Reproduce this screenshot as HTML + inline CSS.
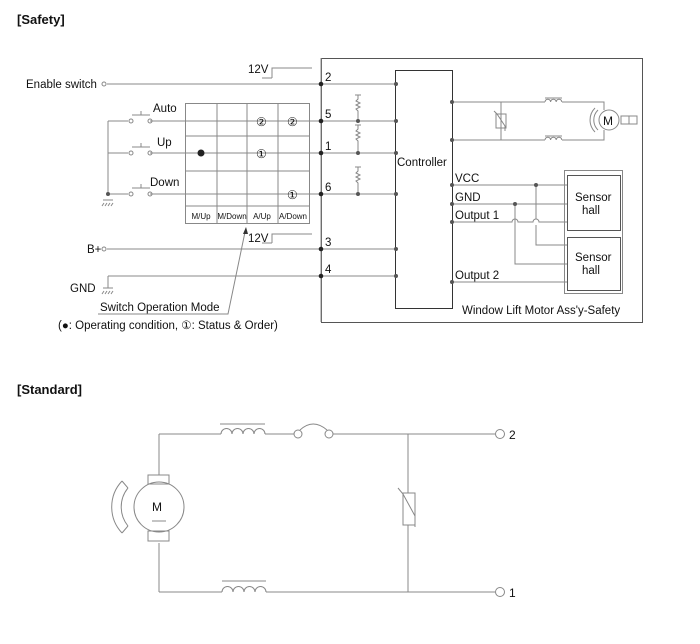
<!DOCTYPE html><html><head><style>body{margin:0;background:#fff}svg text{font-family:"Liberation Sans",sans-serif;fill:#111}</style></head><body>
<svg width="700" height="639" viewBox="0 0 700 639" xmlns="http://www.w3.org/2000/svg">
<g font-size="12">
<text x="17" y="24" font-weight="bold" font-size="13">[Safety]</text>
<text x="17" y="394" font-weight="bold" font-size="13">[Standard]</text>
</g>
<g stroke="#888" fill="none" stroke-width="1">
<rect x="321.5" y="58.5" width="321" height="264" stroke="#555"/>
<rect x="395.5" y="70.5" width="57" height="238" stroke="#333"/>
<path d="M107 84H396 M150 121H396 M150 153H396 M150 194H396 M107 249H396 M108 276H396"/>
<path d="M321 58V322"/>
<path d="M272 78V68H312 M262 78H272 M272 243V234H312 M262 243H272"/>
<path d="M108 121V194 M108 121H128 M108 153H128 M108 194H128 M132 115H150 M141 115V111 M132 147H150 M141 147V143 M132 188H150 M141 188V184"/>
<path d="M103 200H113 M104 203L102 206 M107 203L105 206 M110 203L108 206 M113 203L111 206"/>
<rect x="185.5" y="103.5" width="124" height="120"/>
<path d="M217 103V223 M247 103V223 M278 103V223 M185 136H309 M185 171H309 M185 206H309"/>
<path d="M108 276V288 M103 288H113 M104 291L102 294 M107 291L105 294 M110 291L108 294 M113 291L111 294"/>
<path d="M98 314H228 L245 232"/>
<path d="M358 95V99 l-2 2 4 2 -4 2 4 2 -4 2 2 2 V121 M358 125V129 l-2 2 4 2 -4 2 4 2 -4 2 2 2 V153 M358 167V171 l-2 2 4 2 -4 2 4 2 -4 2 2 2 V194"/>
<path d="M355 95H361 M355 125H361 M355 167H361"/>
<path d="M452 102H545 M562 102H604 V110 M452 140H545 M562 140H604 V130 M501 102V140"/>
<rect x="496" y="114" width="10" height="14"/>
<path d="M494 111L497 114L505 126V131"/>
<path d="M545 102a2.8 2.8 0 0 1 5.6 0a2.8 2.8 0 0 1 5.6 0a2.8 2.8 0 0 1 5.6 0 M545 140a2.8 2.8 0 0 1 5.6 0a2.8 2.8 0 0 1 5.6 0a2.8 2.8 0 0 1 5.6 0 M545 98H562 M545 136H562"/>
<circle cx="609" cy="120" r="10"/>
<rect x="621" y="116" width="16" height="8"/><path d="M629 116V124"/>
<path d="M598 110a14 14 0 0 0 0 20 M595 108a17 17 0 0 0 0 24"/>
<rect x="564.5" y="170.5" width="58" height="123"/>
<rect x="567.5" y="175.5" width="53" height="55" stroke="#555"/>
<rect x="567.5" y="237.5" width="53" height="53" stroke="#555"/>
<path d="M452 185H567 M452 204H567 M452 222H512 a3 3 0 0 1 6 0 H533 a3 3 0 0 1 6 0 H567 M452 282H567"/>
<path d="M536 185V219 M536 225V245H567 M515 204V264H567"/>
<path d="M159 434V475 M159 543V592 M159 434H221 M265 434H294 M333 434H495 M159 592H222 M266 592H495 M408 434V493 M408 525V592"/>
<path d="M221 434a5.5 5.5 0 0 1 11 0a5.5 5.5 0 0 1 11 0a5.5 5.5 0 0 1 11 0a5.5 5.5 0 0 1 11 0 M220 424H265 M222 592a5.5 5.5 0 0 1 11 0a5.5 5.5 0 0 1 11 0a5.5 5.5 0 0 1 11 0a5.5 5.5 0 0 1 11 0 M222 581H266"/>
<circle cx="298" cy="434" r="4"/><circle cx="329" cy="434" r="4"/>
<path d="M300 430Q313 418 327 430"/>
<circle cx="159" cy="507" r="25"/>
<rect x="148" y="475" width="21" height="9"/><rect x="148" y="531" width="21" height="10"/>
<path d="M152 521H166"/>
<path d="M128 488a30 30 0 0 0 0 38 M122 481a38 38 0 0 0 0 52 M122 481L128 488 M122 533L128 526"/>
<rect x="403" y="493" width="12" height="32"/>
<path d="M398 488L403 494L415 516V527"/>
<circle cx="500" cy="434" r="4.5"/><circle cx="500" cy="592" r="4.5"/>
<circle cx="104" cy="84" r="2"/><circle cx="104" cy="249" r="2"/>
<circle cx="131" cy="121" r="2"/><circle cx="150" cy="121" r="2"/>
<circle cx="131" cy="153" r="2"/><circle cx="150" cy="153" r="2"/>
<circle cx="131" cy="194" r="2"/><circle cx="150" cy="194" r="2"/>
</g>
<path d="M246 227L243 234L248 234Z" fill="#333"/>
<g fill="#222">
<circle cx="321" cy="84" r="2.3"/><circle cx="321" cy="121" r="2.3"/><circle cx="321" cy="153" r="2.3"/><circle cx="321" cy="194" r="2.3"/><circle cx="321" cy="249" r="2.3"/><circle cx="321" cy="276" r="2.3"/>
<circle cx="201" cy="153" r="3.5"/>
</g>
<g fill="#555">
<circle cx="396" cy="84" r="2"/><circle cx="396" cy="121" r="2"/><circle cx="396" cy="153" r="2"/><circle cx="396" cy="194" r="2"/><circle cx="396" cy="249" r="2"/><circle cx="396" cy="276" r="2"/>
<circle cx="358" cy="121" r="2"/><circle cx="358" cy="153" r="2"/><circle cx="358" cy="194" r="2"/>
<circle cx="452" cy="102" r="2"/><circle cx="452" cy="140" r="2"/><circle cx="452" cy="185" r="2"/><circle cx="452" cy="204" r="2"/><circle cx="452" cy="222" r="2"/><circle cx="452" cy="282" r="2"/>
<circle cx="536" cy="185" r="2"/><circle cx="515" cy="204" r="2"/>
<circle cx="108" cy="194" r="2"/>
</g>
<g font-size="11.5">
<text x="26" y="88">Enable switch</text>
<text x="248" y="73">12V</text><text x="248" y="242">12V</text>
<text x="153" y="112">Auto</text><text x="157" y="146">Up</text><text x="150" y="186">Down</text>
<text x="87" y="253">B+</text><text x="70" y="292">GND</text>
<text x="100" y="311">Switch Operation Mode</text>
<text x="58" y="329">(●: Operating condition, ①: Status &amp; Order)</text>
<text x="325" y="81">2</text><text x="325" y="118">5</text><text x="325" y="150">1</text><text x="325" y="191">6</text><text x="325" y="246">3</text><text x="325" y="273">4</text>
<text x="397" y="166">Controller</text>
<text x="455" y="182">VCC</text><text x="455" y="201">GND</text><text x="455" y="219">Output 1</text><text x="455" y="279">Output 2</text>
<text x="575" y="201">Sensor</text><text x="582" y="214">hall</text>
<text x="575" y="261">Sensor</text><text x="582" y="274">hall</text>
<text x="462" y="314">Window Lift Motor Ass'y-Safety</text>
<text x="603" y="125" font-size="12">M</text>
<text x="152" y="511" font-size="12">M</text>
<text x="509" y="439" font-size="12">2</text><text x="509" y="597" font-size="12">1</text>
<text x="256" y="126" font-size="12">②</text><text x="287" y="126" font-size="12">②</text>
<text x="256" y="158" font-size="12">①</text><text x="287" y="199" font-size="12">①</text>
</g>
<g font-size="8" text-anchor="middle">
<text x="201" y="219">M/Up</text><text x="232" y="219">M/Down</text><text x="262" y="219">A/Up</text><text x="293" y="219">A/Down</text>
</g>
</svg>
</body></html>
